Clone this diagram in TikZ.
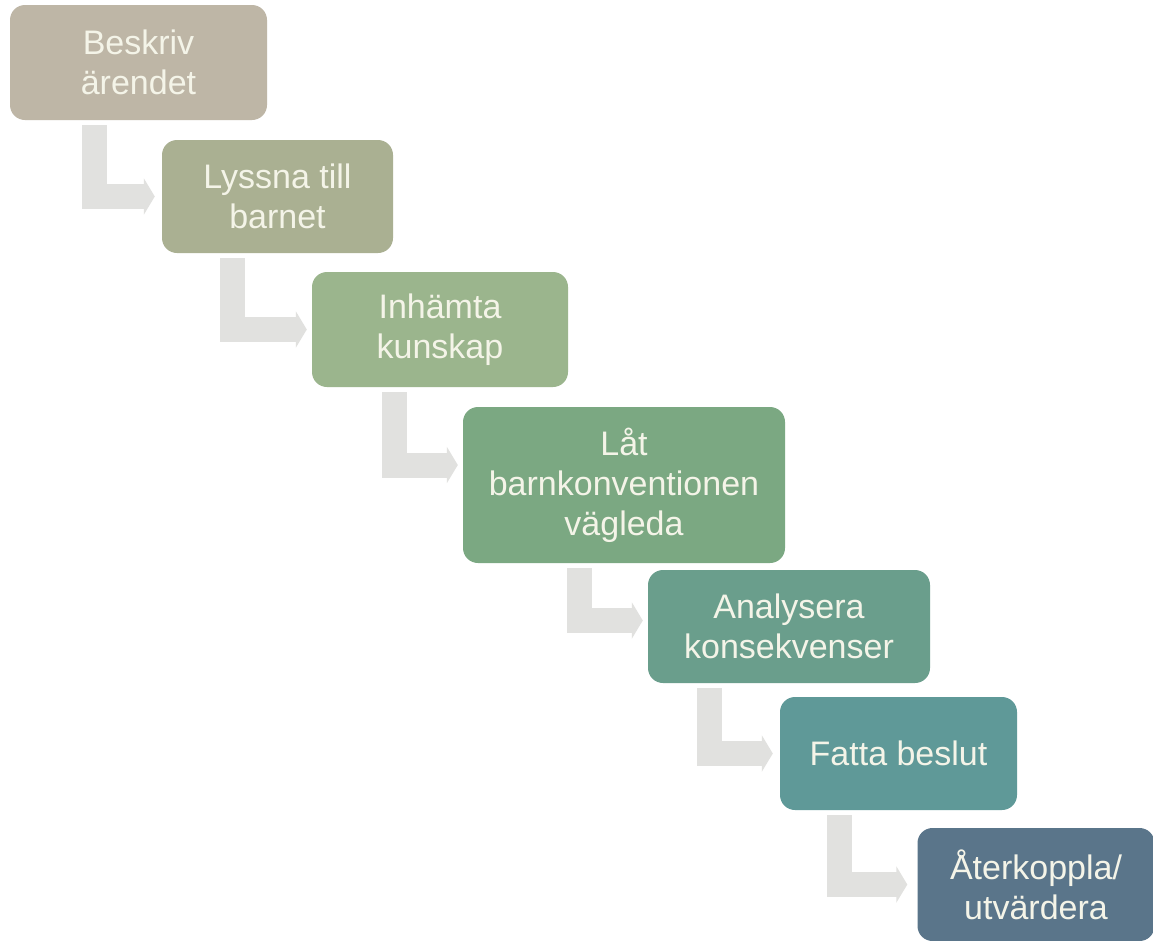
\documentclass[tikz,border=0pt]{standalone}
\usepackage{fontspec}
\setmainfont{Liberation Sans}
\usetikzlibrary{arrows.meta}
\definecolor{c1}{RGB}{190,182,166}
\definecolor{c2}{RGB}{170,176,146}
\definecolor{c3}{RGB}{155,181,141}
\definecolor{c4}{RGB}{123,168,130}
\definecolor{c5}{RGB}{106,158,140}
\definecolor{c6}{RGB}{95,153,152}
\definecolor{c7}{RGB}{90,117,138}
\definecolor{conncol}{RGB}{225,225,223}
\definecolor{txt}{RGB}{244,244,232}
\tikzset{
  stepbox/.style={rectangle, rounded corners=15pt, inner sep=0pt, align=center,
    text=txt, font=\fontsize{34}{40}\selectfont},
  conn/.style={draw=conncol, line width=25pt, line join=miter, line cap=butt,
    -{Triangle[width=36pt,length=11pt]}},
}
\begin{document}
\begin{tikzpicture}[x=1pt,y=-1pt]
\useasboundingbox (0,0) rectangle (1153,940);
\fill[white] (0,0) rectangle (1153,940);
\node[stepbox, fill=c1, minimum width=257pt, minimum height=115pt] (b1) at (138.5,62.5) {Beskriv\\ärendet};
\node[stepbox, fill=c2, minimum width=231pt, minimum height=113pt] (b2) at (277.5,196.5) {Lyssna till\\barnet};
\node[stepbox, fill=c3, minimum width=256pt, minimum height=115pt] (b3) at (440,329.5) {Inhämta\\kunskap};
\node[stepbox, fill=c4, minimum width=322pt, minimum height=156pt] (b4) at (624,485) {Låt\\barnkonventionen\\vägleda};
\node[stepbox, fill=c5, minimum width=282pt, minimum height=113pt] (b5) at (789,626.5) {Analysera\\konsekvenser};
\node[stepbox, fill=c6, minimum width=237pt, minimum height=113pt] (b6) at (898.5,753.5) {Fatta beslut};
\node[stepbox, fill=c7, minimum width=237pt, minimum height=113pt] (b7) at (1036,884.5) {Återkoppla/\\utvärdera};
\draw[conn, shorten >=7pt] ([xshift=85pt,yshift=-5pt]b1.south west) |- (b2.west);
\draw[conn, shorten >=5pt] ([xshift=71pt,yshift=-5pt]b2.south west) |- (b3.west);
\draw[conn, shorten >=5pt] ([xshift=83pt,yshift=-5pt]b3.south west) |- ([yshift=20pt]b4.west);
\draw[conn, shorten >=5pt] ([xshift=117pt,yshift=-5pt]b4.south west) |- ([yshift=6pt]b5.west);
\draw[conn, shorten >=7pt] ([xshift=62pt,yshift=-5pt]b5.south west) |- (b6.west);
\draw[conn, shorten >=10pt] ([xshift=60pt,yshift=-5pt]b6.south west) |- (b7.west);
\end{tikzpicture}
\end{document}
